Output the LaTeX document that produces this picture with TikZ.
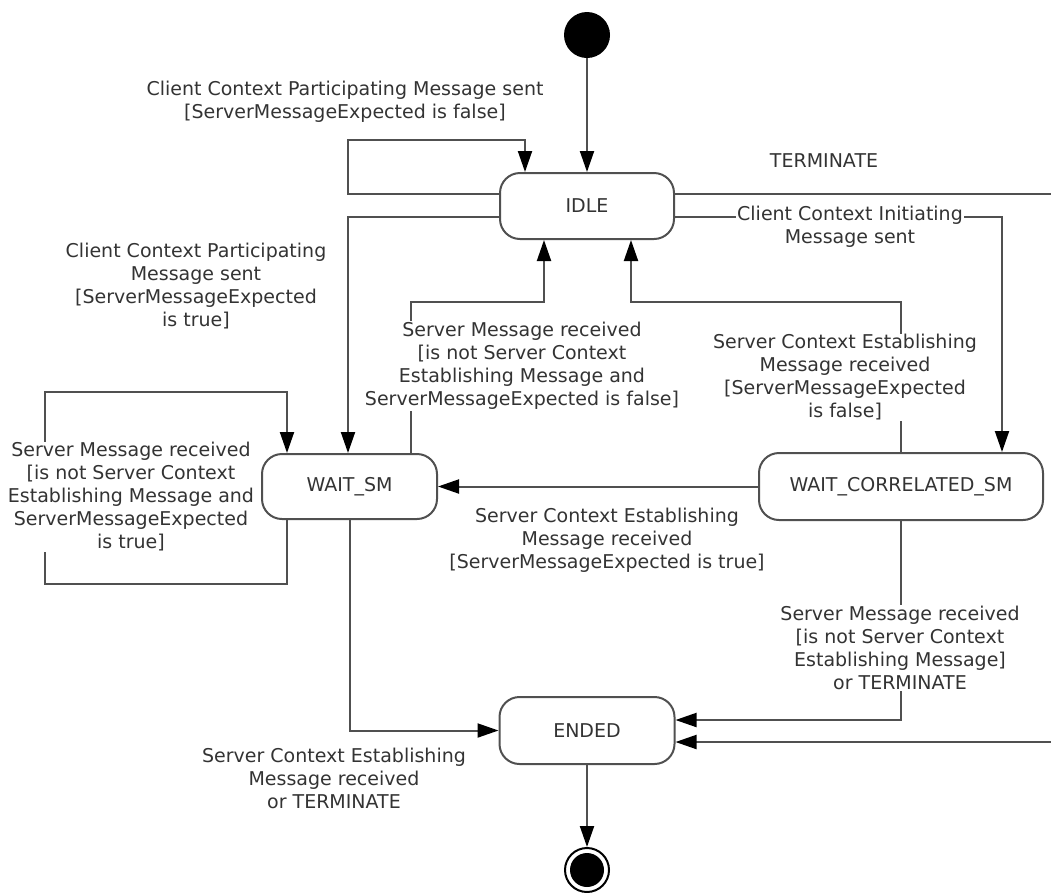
\documentclass[tikz,border=0pt]{standalone}
\usepackage{fontspec}
\setmainfont{DejaVu Sans}
\usetikzlibrary{arrows.meta,calc}
\definecolor{lncol}{HTML}{505050}
\definecolor{txcol}{HTML}{333333}
\begin{document}
\begin{tikzpicture}[x=1pt,y=-1pt,
  state/.style={draw=lncol, line width=2pt, rounded corners=20pt, fill=white, text=txcol, font=\fontsize{19}{23}\selectfont, inner sep=0pt},
  lbl/.style={text=txcol, font=\fontsize{19}{23}\selectfont, align=center, inner sep=1pt},
  lblw/.style={lbl, fill=white},
  wire/.style={draw=lncol, line width=2pt},
  arr/.style={wire, -{Triangle[length=21pt,width=14pt,color=black]}}]
\useasboundingbox (0,0) rectangle (1051,892);
% states
\node[circle, fill=black, minimum size=46pt, inner sep=0pt] (init) at (587,35) {};
\node[state, minimum width=174pt, minimum height=66pt] (idle) at (587,206) {IDLE};
\node[state, minimum width=175pt, minimum height=65pt] (waitsm) at (349.5,486.5) {WAIT\_SM};
\node[state, minimum width=284pt, minimum height=67pt] (wcs) at (901,486.5) {WAIT\_CORRELATED\_SM};
\node[state, minimum width=175pt, minimum height=67pt] (ended) at (587,730.5) {ENDED};
\node[circle, draw=black, line width=2pt, fill=white, minimum size=44pt, inner sep=0pt] (final) at (587,870) {};
\node[circle, fill=black, minimum size=34pt, inner sep=0pt] (finalin) at (final) {};
\coordinate (tedge) at (1051,194);
\coordinate (eedge) at (1051,742);
% transitions
\draw[arr] (init) -- (idle);
\draw[arr] ($(idle.west)+(0,-12)$) -| (348,140) -| ($(idle.north west)+(26,0)$);
\draw[arr] ($(idle.west)+(0,11)$) -| ($(waitsm.north)+(-1.5,0)$);
\draw[arr] ($(waitsm.north)+(61.5,0)$) -- ++(0,-151) -| ($(idle.south)+(-43,0)$);
\draw[arr] (wcs.north) -- ++(0,-150) -| ($(idle.south)+(44,0)$);
\draw[arr] ($(idle.east)+(0,11)$) -| ($(wcs.north east)+(-42,0)$);
\draw[wire] ($(idle.east)+(0,-12)$) -- (tedge);
\draw[arr] (wcs.west) -- (waitsm.east);
\draw[arr] ($(waitsm.south)+(-62.5,0)$) -- ++(0,64) -| (45,392) -| ($(waitsm.north)+(-62.5,0)$);
\draw[arr] (waitsm.south) |- (ended.west);
\draw[arr] (wcs.south) |- ($(ended.east)+(0,-10.5)$);
\draw[arr] (eedge) -- ($(ended.east)+(0,11.5)$);
\draw[arr] (ended) -- (final);
% labels
\node[lbl] (l1) at (345,102) {Client Context Participating Message sent\\{[}ServerMessageExpected is false]};
\node[lbl] (l2) at (824,161) {TERMINATE};
\node[lblw] (l3) at (850,227) {Client Context Initiating\\Message sent};
\node[lbl] (l4) at (196,286.5) {Client Context Participating\\Message sent\\{[}ServerMessageExpected\\is true]};
\node[lblw] (l5) at (522,366) {Server Message received\\{[}is not Server Context\\Establishing Message and\\ServerMessageExpected is false]};
\node[lblw] (l6) at (845,377.5) {Server Context Establishing\\Message received\\{[}ServerMessageExpected\\is false]};
\node[lblw] (l7) at (131,497) {Server Message received\\{[}is not Server Context\\Establishing Message and\\ServerMessageExpected\\is true]};
\node[lbl] (l8) at (607,540) {Server Context Establishing\\Message received\\{[}ServerMessageExpected is true]};
\node[lblw] (l9) at (900,648) {Server Message received\\{[}is not Server Context\\Establishing Message]\\or TERMINATE};
\node[lbl] (l10) at (334,778) {Server Context Establishing\\Message received\\or TERMINATE};
\end{tikzpicture}
\end{document}
